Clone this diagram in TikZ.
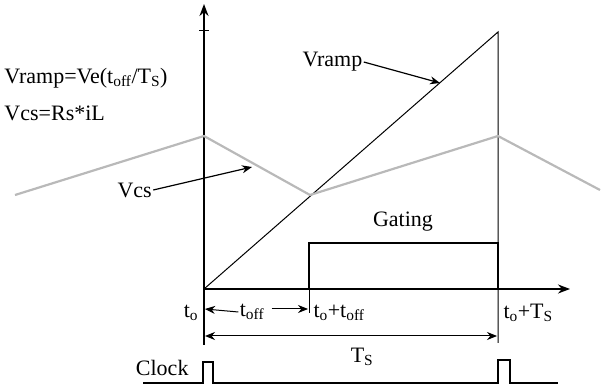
\documentclass[tikz,border=0pt]{standalone}
\usepackage{fontspec}
\setmainfont{Liberation Serif}
\usetikzlibrary{arrows.meta}
\newcommand{\sub}[1]{\textsubscript{#1}}
\begin{document}
\begin{tikzpicture}[x=1pt,y=-1pt,font=\fontsize{22}{24}\selectfont,line width=1pt,
  axis/.style={line width=1.8pt},
  vcsline/.style={gray!55,line width=2.2pt},
  lbl/.style={inner sep=1pt},
  pointer/.style={-{Stealth[length=10pt,width=8pt]},line width=1.2pt}]
  \useasboundingbox (0,0) rectangle (603,390);
  % axes
  \draw[axis,-{Stealth[length=12pt,width=9pt]}] (204,345) -- (204,4);
  \draw[axis,-{Stealth[length=12pt,width=9pt]}] (204,289) -- (570,289);
  \draw (199,31) -- (209,31);
  % ramp and period end
  \draw (204,289) -- (498,32) -- (498,343);
  % current sense
  \draw[vcsline] (15,195) -- (204,136) -- (310,195) -- (498,136) -- (600,190);
  % gating
  \draw[axis] (309,289) -- (309,243) -- (498,243) -- (498,289);
  \draw (309,289) -- (309,313);
  \node[lbl] (gate) at (403,222) {Gating};
  % formulas
  \node[lbl,right] (frmramp) at (3,78) {Vramp=Ve(t\sub{off}/T\sub{S})};
  \node[lbl,right] (frmvcs) at (3,113) {Vcs=Rs*iL};
  % pointers
  \node[lbl,right] (vramp) at (301,62) {Vramp};
  \coordinate (rampend) at (440,83);
  \draw[pointer] (vramp.east) -- (rampend);
  \node[lbl,right] (vcs) at (116,190) {Vcs};
  \coordinate (vcsend) at (252,167);
  \draw[pointer] (vcs.east) -- (vcsend);
  % time marks
  \node[lbl] (to) at (191,313) {t\sub{o}};
  \node[lbl] (toff) at (252,312) {t\sub{off}};
  \coordinate (toffl) at (205,309);
  \coordinate (toffr) at (308,309);
  \draw[pointer,line width=1pt] (toff.west) -- (toffl);
  \draw[pointer,line width=1pt] (toff.east) ++(6,-3) -- (toffr);
  \node[lbl,right] (tont) at (312,313) {t\sub{o}+t\sub{off}};
  \node[lbl,right] (tots) at (502,313) {t\sub{o}+T\sub{S}};
  \coordinate (tsl) at (205,336);
  \coordinate (tsr) at (497,336);
  \draw[line width=1pt,{Stealth[length=10pt,width=8pt]}-{Stealth[length=10pt,width=8pt]}] (tsl) -- (tsr);
  \node[lbl] (ts) at (362,357) {T\sub{S}};
  % clock
  \node[lbl,left] (clk) at (190,368) {Clock};
  \draw[line width=1.3pt] (143,383) -- (203,383) -- (203,362) -- (213,362) -- (213,383)
    -- (498,383) -- (498,360) -- (510,360) -- (510,383) -- (558,383);
\end{tikzpicture}
\end{document}
